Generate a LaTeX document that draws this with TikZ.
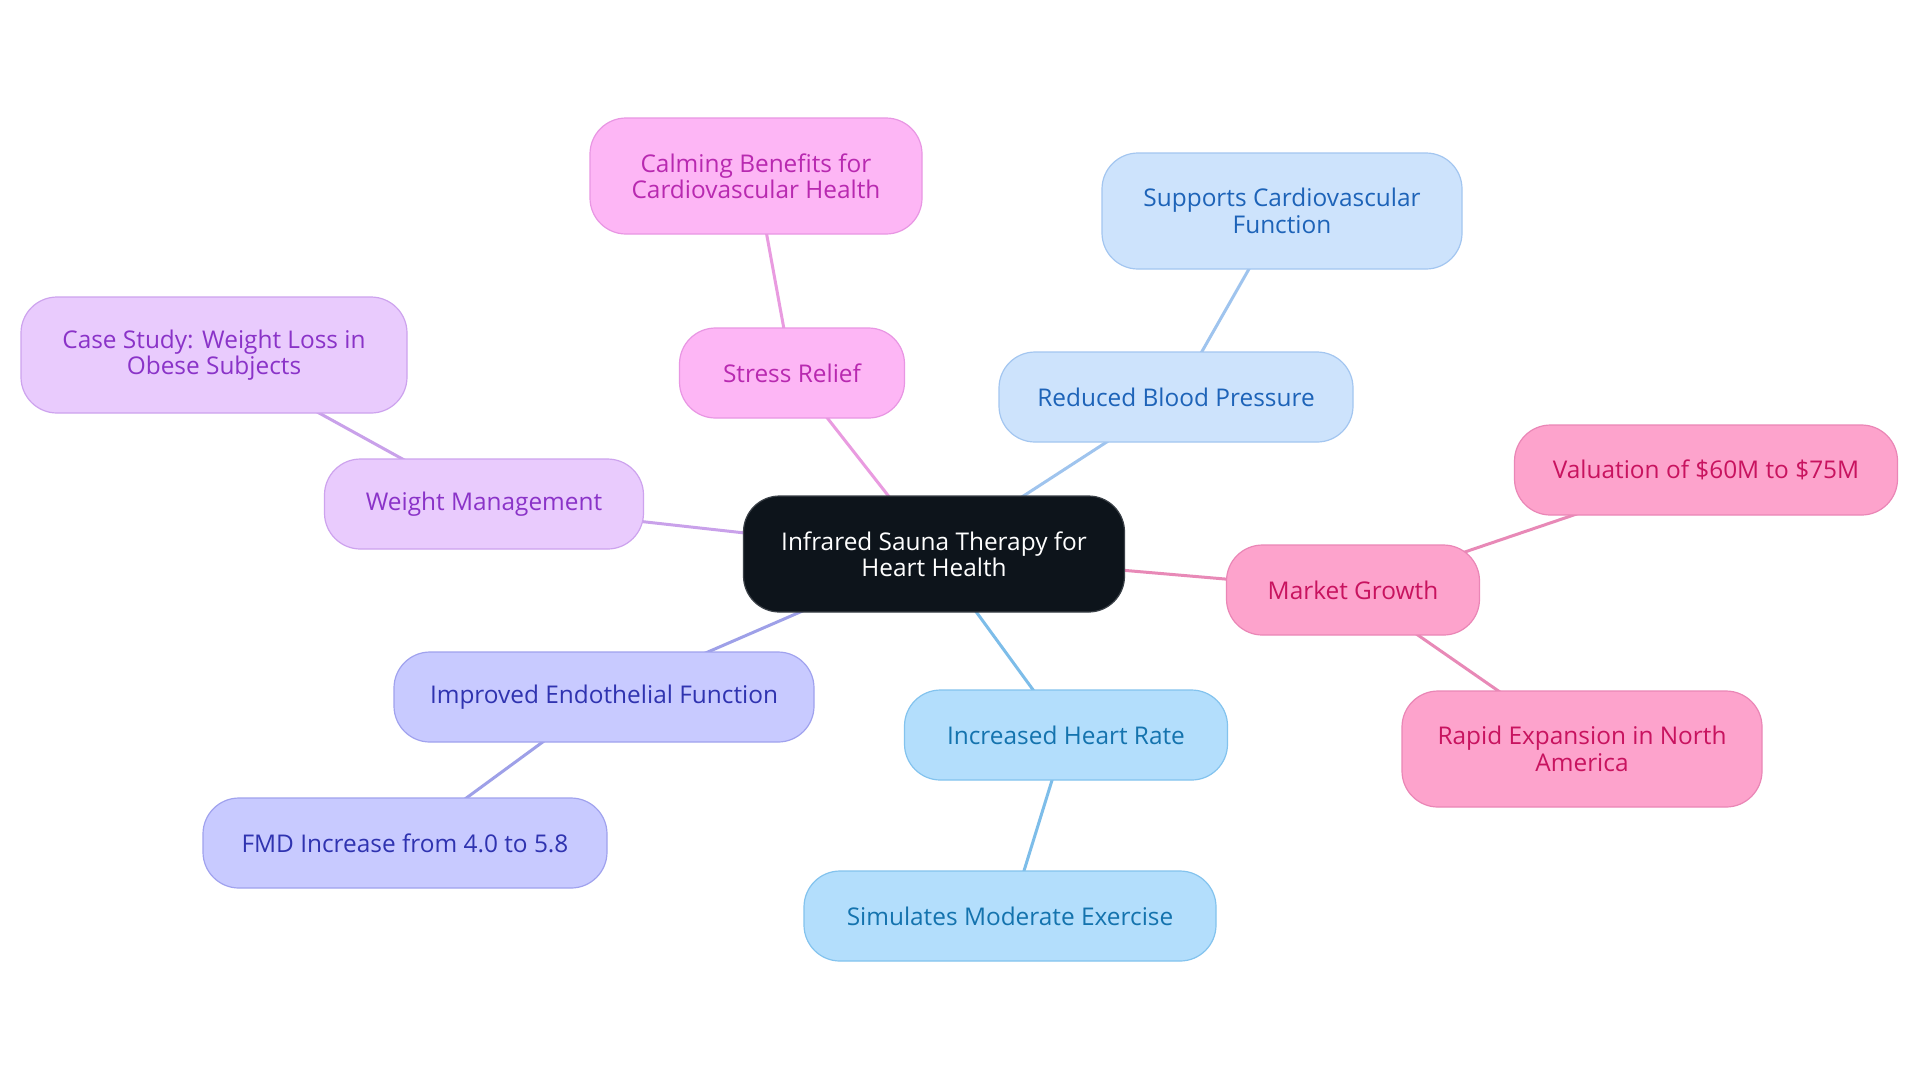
\documentclass[tikz,border=0pt]{standalone}
\usepackage{fontspec}
\setmainfont{Open Sans}
\usepackage{xcolor}
\usepackage{tikz}
\usetikzlibrary{backgrounds}
\definecolor{rootfill}{HTML}{0D141B}
\definecolor{rootline}{HTML}{3A4047}
\definecolor{pinkfill}{HTML}{FDB6F5}
\definecolor{pinkline}{HTML}{E896E3}
\definecolor{pinktext}{HTML}{B829B0}
\definecolor{pinkwire}{HTML}{E99BE0}
\definecolor{bluefill}{HTML}{CDE3FC}
\definecolor{blueline}{HTML}{A3C6F0}
\definecolor{bluetext}{HTML}{1D63B8}
\definecolor{bluewire}{HTML}{9FC4EE}
\definecolor{purpfill}{HTML}{E9CBFD}
\definecolor{purpline}{HTML}{CDA3EE}
\definecolor{purptext}{HTML}{8A33C8}
\definecolor{purpwire}{HTML}{C9A1EA}
\definecolor{perifill}{HTML}{C8CAFF}
\definecolor{periline}{HTML}{A0A2EE}
\definecolor{peritext}{HTML}{2F33B0}
\definecolor{periwire}{HTML}{9EA0E8}
\definecolor{skyfill}{HTML}{B3DEFC}
\definecolor{skyline}{HTML}{83C3EE}
\definecolor{skytext}{HTML}{1473AE}
\definecolor{skywire}{HTML}{7DBDE9}
\definecolor{hotfill}{HTML}{FDA3CC}
\definecolor{hotline}{HTML}{EA86B6}
\definecolor{hottext}{HTML}{C8135F}
\definecolor{hotwire}{HTML}{E889B7}
\tikzset{
  box/.style={rounded corners=18pt, line width=0.6pt, align=center, inner sep=0pt,
    font=\fontsize{12.2}{13.2}\selectfont, minimum height=45pt},
  tall/.style={minimum height=58pt},
  root/.style={box, tall, fill=rootfill, draw=rootline, text=white},
  pinkbox/.style={box, fill=pinkfill, draw=pinkline, text=pinktext},
  bluebox/.style={box, fill=bluefill, draw=blueline, text=bluetext},
  purpbox/.style={box, fill=purpfill, draw=purpline, text=purptext},
  peribox/.style={box, fill=perifill, draw=periline, text=peritext},
  skybox/.style={box, fill=skyfill, draw=skyline, text=skytext},
  hotbox/.style={box, fill=hotfill, draw=hotline, text=hottext},
  pinklink/.style={draw=pinkwire, line width=1.5pt},
  bluelink/.style={draw=bluewire, line width=1.5pt},
  purplink/.style={draw=purpwire, line width=1.5pt},
  perilink/.style={draw=periwire, line width=1.5pt},
  skylink/.style={draw=skywire, line width=1.5pt},
  hotlink/.style={draw=hotwire, line width=1.5pt}
}
\begin{document}
\begin{tikzpicture}[x=0.5pt, y=-0.5pt]
  \begin{scope}[on background layer]
    \fill[white] (0,0) rectangle (1920,1083);
  \end{scope}
  \useasboundingbox (0,0) rectangle (1920,1083);

  % centre
  \node[root, minimum width=190.5pt] (sauna) at (934,554) {Infrared Sauna Therapy for\\Heart Health};

  % branches
  \node[pinkbox, minimum width=112.5pt] (stress) at (792,373) {Stress Relief};
  \node[pinkbox, tall, minimum width=166pt] (calm) at (756,176) {Calming Benefits for\\Cardiovascular Health};

  \node[bluebox, minimum width=177pt] (bp) at (1176,397) {Reduced Blood Pressure};
  \node[bluebox, tall, minimum width=180pt] (cardio) at (1282,211) {Supports Cardiovascular\\Function};

  \node[purpbox, minimum width=159.5pt] (weight) at (484,504) {Weight Management};
  \node[purpbox, tall, minimum width=193pt] (obese) at (214,355) {Case Study: Weight Loss in\\Obese Subjects};

  \node[peribox, minimum width=210pt] (endo) at (604,697) {Improved Endothelial Function};
  \node[peribox, minimum width=202pt] (fmd) at (405,843) {FMD Increase from 4.0 to 5.8};

  \node[skybox, minimum width=161.5pt] (rate) at (1066,735) {Increased Heart Rate};
  \node[skybox, minimum width=206pt] (exercise) at (1010,916) {Simulates Moderate Exercise};

  \node[hotbox, minimum width=126.5pt] (market) at (1353,590) {Market Growth};
  \node[hotbox, minimum width=191.5pt] (value) at (1706,470) {Valuation of \$60M to \$75M};
  \node[hotbox, tall, minimum width=180pt] (america) at (1582,749) {Rapid Expansion in North\\America};

  % links, behind the boxes
  \begin{scope}[on background layer]
    \draw[pinklink] (sauna.center) -- (stress.center);
    \draw[pinklink] (stress.center) -- (calm.center);
    \draw[bluelink] (sauna.center) -- (bp.center);
    \draw[bluelink] (bp.center) -- (cardio.center);
    \draw[purplink] (sauna.center) -- (weight.center);
    \draw[purplink] (weight.center) -- (obese.center);
    \draw[perilink] (sauna.center) -- (endo.center);
    \draw[perilink] (endo.center) -- (fmd.center);
    \draw[skylink] (sauna.center) -- (rate.center);
    \draw[skylink] (rate.center) -- (exercise.center);
    \draw[hotlink] (sauna.center) -- (market.center);
    \draw[hotlink] (market.center) -- (value.center);
    \draw[hotlink] (market.center) -- (america.center);
  \end{scope}
\end{tikzpicture}
\end{document}
